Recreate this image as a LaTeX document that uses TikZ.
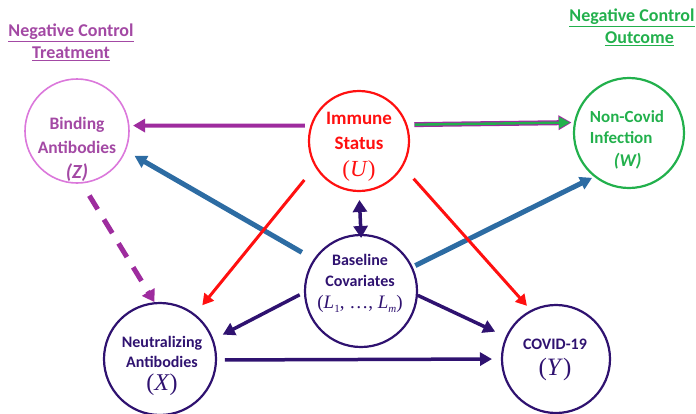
\documentclass[tikz,border=0pt]{standalone}
\usepackage{fontspec}
\setmainfont{Carlito}
\newfontfamily\varfont{Liberation Serif}
\usetikzlibrary{arrows.meta}

\definecolor{nctreat}{HTML}{A349A4}
\definecolor{zring}{HTML}{DB78DB}
\definecolor{zarrow}{HTML}{9E2C9E}
\definecolor{ncgreen}{HTML}{22B04C}
\definecolor{indig}{HTML}{2F1270}
\definecolor{steel}{HTML}{2D6CA3}
\definecolor{immred}{HTML}{FF1010}

% variable names: upright parentheses, italic serif letter
\newcommand{\varname}[2]{{\fontsize{#1}{#1}\selectfont\varfont\mdseries(\textit{#2})}}
\newcommand{\lsub}[1]{\textit{L}\raisebox{-0.22em}{\fontsize{11}{11}\selectfont #1}}

\begin{document}
\begin{tikzpicture}[x=1pt,y=-1pt,
  ring/.style={circle, draw, inner sep=0pt, outer sep=0pt, line width=2.2pt},
  txt/.style={align=center, inner sep=0pt, anchor=north},
  head/.style={align=center, inner sep=0pt, anchor=north, font=\fontsize{18}{22}\selectfont\bfseries},
  tipA/.style={-{Triangle[length=12pt, width=13pt]}},
  indarrow/.style={tipA, indig, line width=3.5pt},
  redarrow/.style={-{Triangle[length=11pt, width=12pt]}, immred, line width=3pt},
  bluearrow/.style={-{Triangle[length=12pt, width=13pt]}, steel, line width=5pt}
]
\useasboundingbox (0,0) rectangle (696,413);

% headings
\node[head, text=nctreat] (hT) at (71,24) {\underline{Negative Control}\\\underline{Treatment}};
\node[head, text=ncgreen] (hO) at (632,9) {\underline{Negative Control}\\\hspace*{15pt}\underline{Outcome}};

% circles
\node[ring, draw=zring, line width=1.6pt, minimum size=104pt] (Z) at (77,131) {};
\node[ring, draw=immred, minimum size=100pt] (U) at (359,141) {};
\node[ring, draw=ncgreen, minimum size=110pt] (W) at (629,133) {};
\node[ring, draw=indig, minimum size=112pt] (L) at (361,291) {};
\node[ring, draw=indig, minimum size=112pt] (X) at (160,359) {};
\node[ring, draw=indig, minimum size=108pt] (Y) at (556,359) {};

% texts inside circles
\node[txt, text=nctreat, font=\fontsize{17.5}{24}\selectfont\bfseries] (Zt) at (77,117)
  {Binding\\Antibodies\\[1pt]{\fontsize{20}{20}\selectfont\itshape (Z)}};
\node[txt, text=immred, font=\fontsize{19}{25}\selectfont\bfseries] (Ut) at (359,112)
  {Immune\\Status\\[2pt]\varname{23}{U}};
\node[txt, text=ncgreen, align=left, font=\fontsize{17}{21}\selectfont\bfseries] (Wt) at (627,110)
  {Non-Covid\\Infection\\[2pt]\hspace*{24pt}{\fontsize{18}{18}\selectfont\itshape (W)}};
\node[txt, text=indig, font=\fontsize{16}{21}\selectfont\bfseries] (Lt) at (360,254)
  {Baseline\\Covariates\\[1pt]{\fontsize{19}{19}\selectfont\varfont\mdseries(\lsub{1}, \ldots, \lsub{\textit{m}})}};
\node[txt, text=indig, font=\fontsize{16}{20}\selectfont\bfseries] (Xt) at (162,336)
  {Neutralizing\\Antibodies\\[3pt]\varname{24}{X}};
\node[txt, text=indig, font=\fontsize{16}{26}\selectfont\bfseries] (Yt) at (555,339)
  {COVID-19\\\varname{25}{Y}};

% connectors
\draw[tipA, zarrow, line width=4pt, shorten <=6.6pt, shorten >=4.3pt] (U.162.5) -- (Z.6);
\draw[-{Triangle[length=13pt, width=14pt]}, zarrow, line width=5pt, shorten <=8pt, shorten >=3.5pt] (U.19) -- (W.169.3);
\draw[-{Triangle[length=11pt, width=11pt]}, ncgreen, line width=2.4pt, shorten <=8.5pt, shorten >=5pt] (U.19) -- (W.169.3);
\draw[bluearrow, shorten <=14.7pt, shorten >=10.8pt] (L.146.5) -- (Z.-22.5);
\draw[bluearrow, shorten <=4pt, shorten >=3.4pt] (L.25.7) -- (W.-128);
\draw[redarrow, shorten <=18pt, shorten >=12.4pt] (U.210) -- (X.52);
\draw[redarrow, shorten <=17pt, shorten >=6.8pt] (U.-30.4) -- (Y.117.4);
\draw[{Triangle[length=12pt, width=14pt]}-{Triangle[length=12pt, width=14pt]}, indig, line width=3.5pt,
  shorten <=-3pt, shorten >=9pt] (L.90) -- (U.-90);
\draw[indarrow, shorten <=6pt, shorten >=11.4pt] (L.181.8) -- (X.20.9);
\draw[indarrow, shorten <=1pt, shorten >=12.7pt] (L.-4) -- (Y.156.1);
\draw[indarrow, shorten <=9pt, shorten >=10pt] (X.-1) -- (Y.180.9);
\draw[-{Triangle[length=12pt, width=14pt]}, zarrow, line width=5pt, dash pattern=on 16pt off 12pt,
  shorten <=15pt, shorten >=1.2pt] (Z.-85.7) -- (X.95);
\end{tikzpicture}
\end{document}
